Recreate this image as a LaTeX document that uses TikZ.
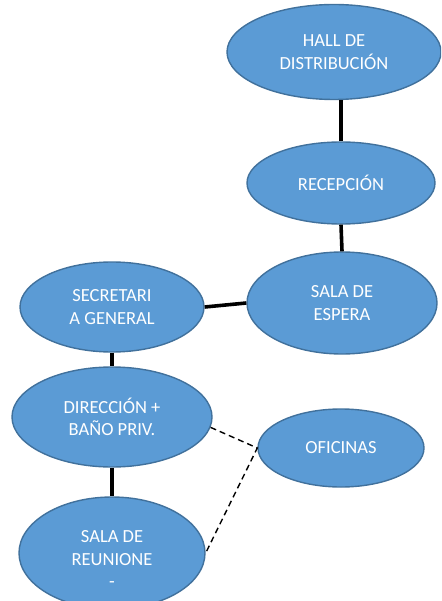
\documentclass[tikz,border=0pt]{standalone}
\usepackage{fontspec}
\setmainfont{Carlito}
\usepackage{xcolor}
\usetikzlibrary{shapes.geometric}
\definecolor{salafondo}{HTML}{5B9BD5}
\definecolor{salaborde}{HTML}{41719C}

\begin{document}
\begin{tikzpicture}[x=1pt,y=-1pt,
  sala/.style={ellipse,draw=salaborde,fill=salafondo,line width=1.4pt,inner sep=0pt},
  rotulo/.style={text=white,align=center,font=\fontsize{18.5}{22.5}\selectfont},
  pasillo/.style={line width=3.6pt},
  acceso/.style={dash pattern=on 6pt off 4pt,line width=1.4pt}]
  \useasboundingbox (0,0) rectangle (441,601);
  \clip (0,0) rectangle (441,601);
  \node[sala,rotulo,minimum width=214,minimum height=95] (hall) at (334,52) {HALL DE\\DISTRIBUCIÓN};
  \node[sala,rotulo,minimum width=188,minimum height=82] (recep) at (341,183) {RECEPCIÓN};
  \node[sala,rotulo,minimum width=190,minimum height=102] (espera) at (342,303) {SALA DE\\ESPERA};
  \node[sala,rotulo,minimum width=184,minimum height=90] (secre) at (112,307) {SECRETARI\\A GENERAL};
  \node[sala,rotulo,minimum width=200,minimum height=100] (dir) at (112,417) {DIRECCIÓN +\\BAÑO PRIV.};
  \node[sala,minimum width=186,minimum height=112] (reunion) at (112,553) {};
  \node[rotulo] (reuniontxt) at (112,559) {SALA DE\\REUNIONE\\-};
  \node[sala,rotulo,minimum width=166,minimum height=78] (ofic) at (341,448) {OFICINAS};

  \draw[pasillo] (recep.north) -- (recep.north |- hall.south);
  \draw[pasillo] (recep.south) -- (espera.north);
  \draw[pasillo] (secre.east) -- (espera.west);
  \draw[pasillo] (secre.south) -- (dir.north);
  \draw[pasillo] (dir.south) -- (reunion.north);
  \draw[acceso] (dir.-6) -- (ofic.west) -- (reunion.east);
\end{tikzpicture}
\end{document}
